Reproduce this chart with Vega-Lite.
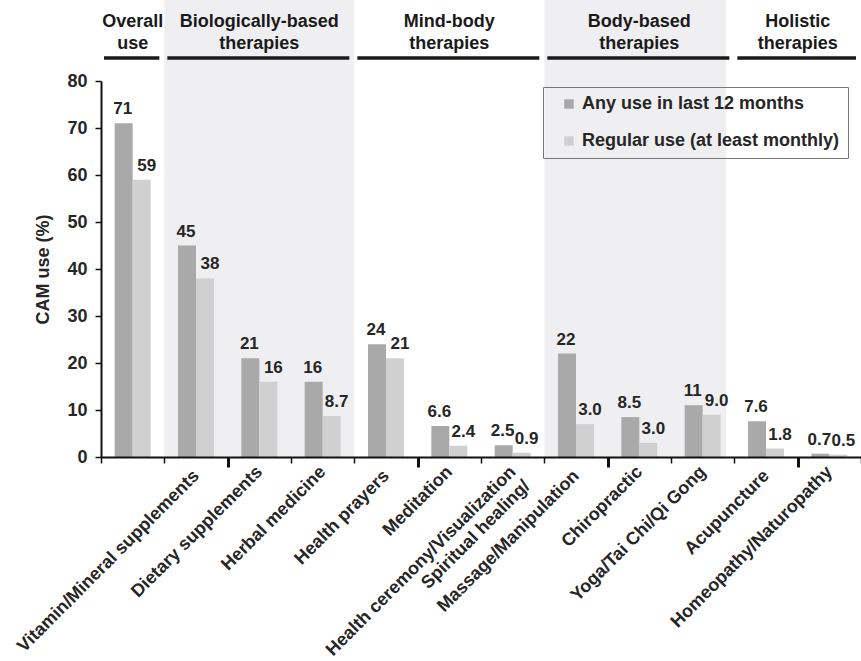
{
  "$schema": "https://vega.github.io/schema/vega-lite/v6.json",
  "width": 760,
  "height": 376,
  "autosize": {"type": "none"},
  "padding": {"left": 101, "top": 81, "right": 0, "bottom": 204},
  "config": {"view": {"stroke": null}, "font": "Liberation Sans"},
  "datasets": {
    "bars": [
      {"category": "Overall use", "series": "Any use in last 12 months", "value": 71, "label": "71"},
      {"category": "Overall use", "series": "Regular use (at least monthly)", "value": 59, "label": "59"},
      {"category": "Vitamin/Mineral supplements", "series": "Any use in last 12 months", "value": 45, "label": "45"},
      {"category": "Vitamin/Mineral supplements", "series": "Regular use (at least monthly)", "value": 38, "label": "38"},
      {"category": "Dietary supplements", "series": "Any use in last 12 months", "value": 21, "label": "21"},
      {"category": "Dietary supplements", "series": "Regular use (at least monthly)", "value": 16, "label": "16"},
      {"category": "Herbal medicine", "series": "Any use in last 12 months", "value": 16, "label": "16"},
      {"category": "Herbal medicine", "series": "Regular use (at least monthly)", "value": 8.7, "label": "8.7"},
      {"category": "Health prayers", "series": "Any use in last 12 months", "value": 24, "label": "24"},
      {"category": "Health prayers", "series": "Regular use (at least monthly)", "value": 21, "label": "21"},
      {"category": "Meditation", "series": "Any use in last 12 months", "value": 6.6, "label": "6.6"},
      {"category": "Meditation", "series": "Regular use (at least monthly)", "value": 2.4, "label": "2.4"},
      {"category": "Spiritual healing/Health ceremony/Visualization", "series": "Any use in last 12 months", "value": 2.5, "label": "2.5"},
      {"category": "Spiritual healing/Health ceremony/Visualization", "series": "Regular use (at least monthly)", "value": 0.9, "label": "0.9"},
      {"category": "Massage/Manipulation", "series": "Any use in last 12 months", "value": 22, "label": "22"},
      {"category": "Massage/Manipulation", "series": "Regular use (at least monthly)", "value": 7.0, "label": "3.0"},
      {"category": "Chiropractic", "series": "Any use in last 12 months", "value": 8.5, "label": "8.5"},
      {"category": "Chiropractic", "series": "Regular use (at least monthly)", "value": 3.0, "label": "3.0"},
      {"category": "Yoga/Tai Chi/Qi Gong", "series": "Any use in last 12 months", "value": 11, "label": "11"},
      {"category": "Yoga/Tai Chi/Qi Gong", "series": "Regular use (at least monthly)", "value": 9.0, "label": "9.0"},
      {"category": "Acupuncture", "series": "Any use in last 12 months", "value": 7.6, "label": "7.6"},
      {"category": "Acupuncture", "series": "Regular use (at least monthly)", "value": 1.8, "label": "1.8"},
      {"category": "Homeopathy/Naturopathy", "series": "Any use in last 12 months", "value": 0.7, "label": "0.7"},
      {"category": "Homeopathy/Naturopathy", "series": "Regular use (at least monthly)", "value": 0.5, "label": "0.5"}
    ],
    "groups": [
      {"group": "Overall use", "from": "Overall use", "to": "Overall use", "mid": "Overall use"},
      {"group": "Biologically-based therapies", "from": "Vitamin/Mineral supplements", "to": "Herbal medicine", "mid": "Dietary supplements"},
      {"group": "Mind-body therapies", "from": "Health prayers", "to": "Spiritual healing/Health ceremony/Visualization", "mid": "Meditation"},
      {"group": "Body-based therapies", "from": "Massage/Manipulation", "to": "Yoga/Tai Chi/Qi Gong", "mid": "Chiropractic"},
      {"group": "Holistic therapies", "from": "Acupuncture", "to": "Homeopathy/Naturopathy", "mid": "Acupuncture"}
    ]
  },
  "layer": [
    {
      "data": {"name": "groups"},
      "transform": [{"filter": "datum.group == 'Biologically-based therapies'"}],
      "mark": {"type": "rect", "color": "#efeff1"},
      "encoding": {
        "x": {"field": "from", "type": "nominal", "bandPosition": 0, "scale": {"domain": ["Overall use", "Vitamin/Mineral supplements", "Dietary supplements", "Herbal medicine", "Health prayers", "Meditation", "Spiritual healing/Health ceremony/Visualization", "Massage/Manipulation", "Chiropractic", "Yoga/Tai Chi/Qi Gong", "Acupuncture", "Homeopathy/Naturopathy"], "paddingInner": 0, "paddingOuter": 0}},
        "x2": {"field": "to", "bandPosition": 1},
        "y": {"datum": 0, "type": "quantitative"},
        "y2": {"datum": 97.3}
      }
    },
    {
      "data": {"name": "groups"},
      "transform": [{"filter": "datum.group == 'Body-based therapies'"}],
      "mark": {"type": "rect", "color": "#efeff1"},
      "encoding": {
        "x": {"field": "from", "type": "nominal", "bandPosition": 0, "scale": {"domain": ["Overall use", "Vitamin/Mineral supplements", "Dietary supplements", "Herbal medicine", "Health prayers", "Meditation", "Spiritual healing/Health ceremony/Visualization", "Massage/Manipulation", "Chiropractic", "Yoga/Tai Chi/Qi Gong", "Acupuncture", "Homeopathy/Naturopathy"], "paddingInner": 0, "paddingOuter": 0}},
        "x2": {"field": "to", "bandPosition": 0.87},
        "y": {"datum": 0, "type": "quantitative"},
        "y2": {"datum": 97.3}
      }
    },
    {
      "data": {"name": "groups"},
      "mark": {"type": "rule", "strokeWidth": 3.5, "color": "#1a1a1a", "xOffset": 3, "x2Offset": -5},
      "encoding": {
        "x": {"field": "from", "type": "nominal", "bandPosition": 0, "scale": {"domain": ["Overall use", "Vitamin/Mineral supplements", "Dietary supplements", "Herbal medicine", "Health prayers", "Meditation", "Spiritual healing/Health ceremony/Visualization", "Massage/Manipulation", "Chiropractic", "Yoga/Tai Chi/Qi Gong", "Acupuncture", "Homeopathy/Naturopathy"], "paddingInner": 0, "paddingOuter": 0}},
        "x2": {"field": "to", "bandPosition": 1},
        "y": {"datum": 84.9, "type": "quantitative"}
      }
    },
    {
      "data": {"name": "groups"},
      "transform": [{"filter": "datum.group != 'Holistic therapies'"}],
      "mark": {"type": "text", "font": "Liberation Sans", "fontSize": 18, "fontWeight": "bold", "lineBreak": " ", "lineHeight": 22, "baseline": "alphabetic", "align": "center", "color": "#1a1a1a"},
      "encoding": {
        "x": {"field": "mid", "type": "nominal", "bandPosition": 0.5, "scale": {"domain": ["Overall use", "Vitamin/Mineral supplements", "Dietary supplements", "Herbal medicine", "Health prayers", "Meditation", "Spiritual healing/Health ceremony/Visualization", "Massage/Manipulation", "Chiropractic", "Yoga/Tai Chi/Qi Gong", "Acupuncture", "Homeopathy/Naturopathy"], "paddingInner": 0, "paddingOuter": 0}},
        "y": {"datum": 91.5, "type": "quantitative"},
        "text": {"field": "group"}
      }
    },
    {
      "data": {"name": "groups"},
      "transform": [{"filter": "datum.group == 'Holistic therapies'"}],
      "mark": {"type": "text", "font": "Liberation Sans", "fontSize": 18, "fontWeight": "bold", "lineBreak": " ", "lineHeight": 22, "baseline": "alphabetic", "align": "center", "color": "#1a1a1a"},
      "encoding": {
        "x": {"field": "mid", "type": "nominal", "bandPosition": 1, "scale": {"domain": ["Overall use", "Vitamin/Mineral supplements", "Dietary supplements", "Herbal medicine", "Health prayers", "Meditation", "Spiritual healing/Health ceremony/Visualization", "Massage/Manipulation", "Chiropractic", "Yoga/Tai Chi/Qi Gong", "Acupuncture", "Homeopathy/Naturopathy"], "paddingInner": 0, "paddingOuter": 0}},
        "y": {"datum": 91.5, "type": "quantitative"},
        "text": {"field": "group"}
      }
    },
    {
      "data": {"name": "bars"},
      "encoding": {
        "x": {
          "field": "category", "type": "nominal",
          "scale": {"domain": ["Overall use", "Vitamin/Mineral supplements", "Dietary supplements", "Herbal medicine", "Health prayers", "Meditation", "Spiritual healing/Health ceremony/Visualization", "Massage/Manipulation", "Chiropractic", "Yoga/Tai Chi/Qi Gong", "Acupuncture", "Homeopathy/Naturopathy"], "paddingInner": 0, "paddingOuter": 0},
          "axis": {
            "title": null,
            "labelAngle": -45,
            "labelAlign": "right",
            "labelBaseline": "middle",
            "labelFont": "Liberation Sans",
            "labelFontSize": 18,
            "labelFontWeight": "bold",
            "labelColor": "#262626",
            "labelPadding": 6,
            "labelLimit": 500,
            "labelOverlap": false,
            "labelExpr": "datum.value == 'Overall use' ? '' : (datum.value == 'Spiritual healing/Health ceremony/Visualization' ? ['Health ceremony/Visualization', 'Spiritual healing/'] : datum.value)",
            "tickBand": "extent",
            "tickColor": "#111111",
            "tickSize": {"condition": {"test": "indexof(['Vitamin/Mineral supplements','Health prayers','Massage/Manipulation','Acupuncture'], datum.value) >= 0", "value": 10}, "value": 6},
            "tickWidth": {"condition": {"test": "indexof(['Vitamin/Mineral supplements','Health prayers','Massage/Manipulation','Acupuncture'], datum.value) >= 0", "value": 3}, "value": 1.5},
            "domainColor": "#111111",
            "domainWidth": 2
          }
        },
        "xOffset": {"field": "series", "type": "nominal", "scale": {"domain": ["Any use in last 12 months", "Regular use (at least monthly)"], "paddingInner": 0, "paddingOuter": 0.76}},
        "y": {
          "field": "value", "type": "quantitative",
          "scale": {"domain": [0, 80], "nice": false},
          "axis": {
            "title": "CAM use (%)",
            "titleFont": "Liberation Sans",
            "titleFontSize": 18,
            "titleFontWeight": "bold",
            "titleColor": "#262626",
            "titlePadding": 14,
            "values": [0, 10, 20, 30, 40, 50, 60, 70, 80],
            "labelFont": "Liberation Sans",
            "labelFontSize": 18,
            "labelFontWeight": "bold",
            "labelColor": "#262626",
            "labelPadding": 8,
            "tickSize": 6,
            "tickColor": "#111111",
            "tickWidth": 1.5,
            "domainColor": "#111111",
            "domainWidth": 2,
            "grid": false
          }
        }
      },
      "layer": [
        {
          "mark": {"type": "bar"},
          "encoding": {
            "color": {
              "field": "series", "type": "nominal",
              "scale": {"domain": ["Any use in last 12 months", "Regular use (at least monthly)"], "range": ["#a9a9a9", "#d0d0d0"]},
              "legend": {
                "title": null,
                "orient": "none",
                "legendX": 442,
                "legendY": 6,
                "direction": "vertical",
                "strokeColor": "#777777",
                "padding": 8,
                "symbolType": "square",
                "symbolSize": 90,
                "symbolStrokeWidth": 0,
                "symbolOffset": 9,
                "labelFont": "Liberation Sans",
                "labelFontSize": 18,
                "labelFontWeight": "bold",
                "labelColor": "#262626",
                "labelOffset": 4,
                "labelLimit": 500,
                "rowPadding": 19
              }
            }
          }
        },
        {
          "transform": [{"filter": "datum.series == 'Any use in last 12 months'"}],
          "mark": {"type": "text", "font": "Liberation Sans", "fontSize": 17, "fontWeight": "bold", "baseline": "alphabetic", "dy": -9, "dx": -1, "color": "#262626"},
          "encoding": {"text": {"field": "label"}}
        },
        {
          "transform": [{"filter": "datum.series == 'Regular use (at least monthly)'"}],
          "mark": {"type": "text", "font": "Liberation Sans", "fontSize": 17, "fontWeight": "bold", "baseline": "alphabetic", "dy": -9, "dx": 5, "color": "#262626"},
          "encoding": {"text": {"field": "label"}}
        }
      ]
    }
  ]
}
